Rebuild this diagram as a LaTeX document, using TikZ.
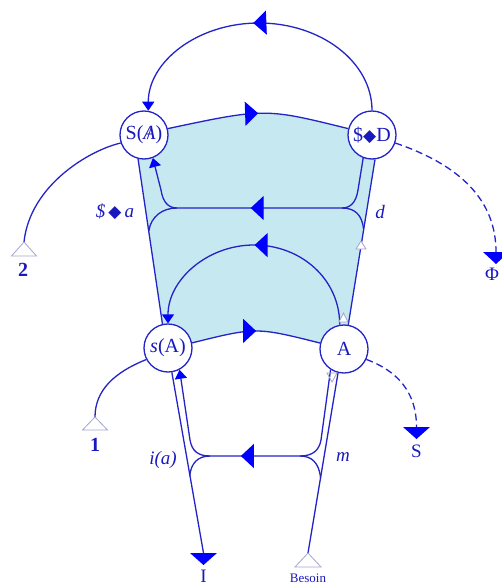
\documentclass[tikz,border=0pt]{standalone}
\usepackage{fontspec}
\setmainfont{Liberation Serif}
\newfontfamily\dejavu{DejaVu Sans}
\usetikzlibrary{arrows.meta,decorations.markings,backgrounds}
\definecolor{lineblue}{RGB}{35,35,200}
\definecolor{arrowblue}{RGB}{0,0,255}
\definecolor{textblue}{RGB}{25,25,190}
\definecolor{shadeblue}{RGB}{198,232,241}
\definecolor{hollowgrey}{RGB}{165,165,205}
\newcommand{\dia}{{\dejavu\fontsize{17}{17}\selectfont ◆}}
\begin{document}
\begin{tikzpicture}[x=1pt,y=-1pt,
  ln/.style={draw=lineblue,line width=1.3pt},
  circ/.style={circle,draw=lineblue,line width=1.3pt,fill=white,minimum size=48pt,inner sep=0pt,text=textblue,font=\fontsize{20}{20}\selectfont},
  midarrow/.style={postaction={decorate,decoration={markings,mark=at position #1 with {\arrow{Triangle[length=13pt,width=24pt,color=arrowblue]}}}}},
  endarrow/.style={-{Triangle[length=9pt,width=12pt,color=arrowblue]}},
  lbl/.style={text=textblue,font=\fontsize{19}{19}\selectfont\itshape,inner sep=0pt},
  plainlbl/.style={text=textblue,font=\fontsize{19}{19}\selectfont,inner sep=0pt},
  boldlbl/.style={text=textblue,font=\fontsize{20}{20}\selectfont\bfseries,inner sep=0pt},
  filltri/.style={fill=arrowblue},
  hollowtri/.style={draw=hollowgrey,line width=0.8pt,fill=white},
  dashedline/.style={ln,dash pattern=on 7pt off 4pt}
]
\useasboundingbox (0,0) rectangle (501,586);

% nodes
\node[circ] (SA) at (144,135) {S(\ooalign{\itshape A\cr\hidewidth/\hidewidth})};
\node[circ] (SD) at (372,135) {\$\dia D};
\node[circ] (sA) at (168,348) {\textit{s}(A)};
\node[circ] (A)  at (344,349) {A};

% end points
\coordinate (t2) at (24,242);
\coordinate (t1) at (95,417);
\coordinate (tPhi) at (496,252);
\coordinate (tS) at (416.5,427);
\coordinate (tI) at (203.5,553);
\coordinate (tB) at (308,553);

% shaded region
\begin{pgfonlayer}{background}
\fill[shadeblue] (SA.-104) -- (sA.103) -- (sA.12) .. controls (256,327) .. (A.166)
  -- (A.80) -- (SD.-83) -- (SD.165) .. controls (265,108) .. (SA.15) -- cycle;
\end{pgfonlayer}

% boundary arcs and edges
\draw[ln,midarrow=0.5] (SA.15) .. controls (265,108) .. (SD.165);
\draw[ln,midarrow=0.5] (sA.12) .. controls (256,327) .. (A.166);
\draw[ln] (SA.-104) -- (sA.103);
\draw[ln] (SD.-83) -- (A.80);

% upper middle structure
\draw[ln,midarrow=0.53,endarrow] (SD.-111) -- (358,190) .. controls (356,203) and (350,208) .. (342,208)
  -- (177,208) .. controls (169,208) and (163,203) .. (161,190) -- (SA.-69);
\draw[ln] (342,208) .. controls (355,208) and (362,215) .. (363.6,229);
\draw[ln] (177,208) .. controls (163,208) and (151,216) .. (148.8,231);

% inner arc A -> s(A)
\draw[ln,midarrow=0.5,endarrow] (A.100) .. controls (339.7,279) and (301,245) .. (254,245)
  .. controls (207,245) and (168,280) .. (sA.90);

% big top arc
\draw[ln,midarrow=0.52,endarrow] (SD.90) .. controls (372,62) and (321,23) .. (259,23)
  .. controls (197,23) and (148.2,62) .. (SA.80);

% lower structure
\draw[ln] (sA.-81) -- (tI);
\draw[ln] (tB) -- (A.-104);
\draw[ln,midarrow=0.55,endarrow] (A.-123) -- (321,440) .. controls (319,451) and (312,456) .. (300,456)
  -- (210,456) .. controls (198,456) and (192,451) .. (190,440) -- (sA.-62);
\draw[ln] (300,456) .. controls (312,456) and (319,463) .. (320.6,478);
\draw[ln] (210,456) .. controls (198,456) and (191,463) .. (189.7,476);

% side arcs
\draw[ln] (SA.-161) .. controls (90,150) and (30,185) .. (t2);
\draw[ln] (sA.-152) .. controls (115,372) and (95,390) .. (t1);
\draw[dashedline] (SD.-19) .. controls (460,165) and (496,200) .. (tPhi);
\draw[dashedline] (A.-25) .. controls (395,370) and (416.5,390) .. (tS);

% end triangles
\fill[filltri] (tI) ++(-13.5,0) -- ++(27,0) -- ++(-13.5,12) -- cycle;
\fill[filltri] (tPhi) ++(-13,0) -- ++(26,0) -- ++(-13,12) -- cycle;
\fill[filltri] (tS) ++(-13.5,0) -- ++(27,0) -- ++(-13.5,12) -- cycle;
\filldraw[hollowtri] (t2) -- ++(-12.5,14) -- ++(25,0) -- cycle;
\filldraw[hollowtri] (t1) -- ++(-12.5,13) -- ++(25,0) -- cycle;
\filldraw[hollowtri] (tB) -- ++(-13,14) -- ++(26,0) -- cycle;

% small hollow marks
\filldraw[hollowtri] (361,241) -- ++(-5,8) -- ++(10,0) -- cycle;
\filldraw[hollowtri] (343.5,313) -- ++(-4.5,9) -- ++(9,0) -- cycle;
\draw[draw=hollowgrey,line width=0.8pt] (332,382) -- ++(-5,-9) -- ++(10,0) -- cycle;

% labels
\node[lbl] (la) at (115,212) {\$\,\dia\,a};
\node[lbl] (ld) at (380,212) {d};
\node[lbl] (li) at (163,460) {i(a)};
\node[lbl] (lm) at (343,457) {m};
\node[boldlbl] (l2) at (23,270) {2};
\node[boldlbl] (l1) at (95,445) {1};
\node[plainlbl] (lphi) at (492,274) {Φ};
\node[plainlbl] (lS) at (416.5,451) {S};
\node[plainlbl] (lI) at (203.5,576) {I};
\node[text=textblue,font=\fontsize{13}{13}\selectfont,inner sep=0pt] (lB) at (308,578) {Besoin};
\end{tikzpicture}
\end{document}
